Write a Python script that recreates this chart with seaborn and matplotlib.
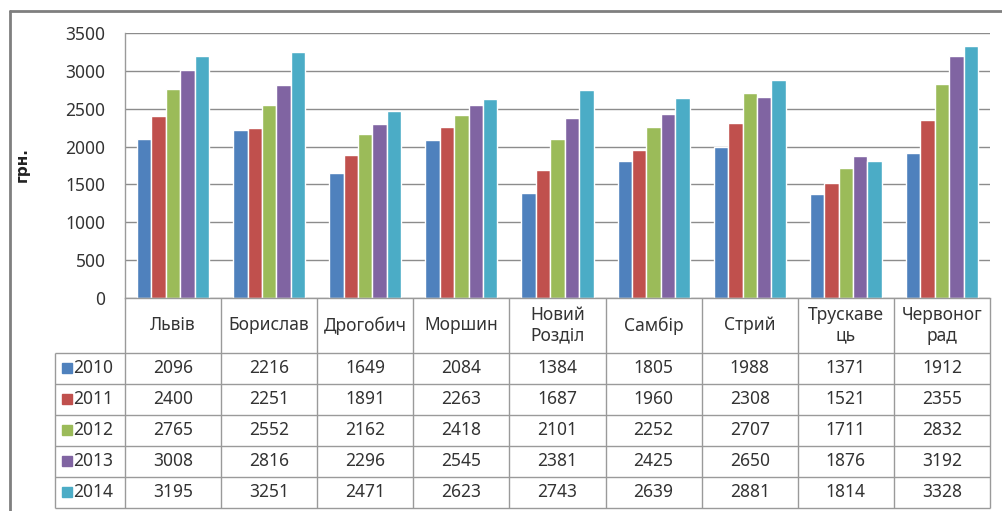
import matplotlib.pyplot as plt
import seaborn as sns
import pandas as pd
from matplotlib.lines import Line2D

# дані
cities = ['Львів', 'Борислав', 'Дрогобич', 'Моршин', 'Новий\nРозділ',
          'Самбір', 'Стрий', 'Трускаве\nць', 'Червоног\nрад']
years = ['2010', '2011', '2012', '2013', '2014']
v2010 = [2096, 2216, 1649, 2084, 1384, 1805, 1988, 1371, 1912]
v2011 = [2400, 2251, 1891, 2263, 1687, 1960, 2308, 1521, 2355]
v2012 = [2765, 2552, 2162, 2418, 2101, 2252, 2707, 1711, 2832]
v2013 = [3008, 2816, 2296, 2545, 2381, 2425, 2650, 1876, 3192]
v2014 = [3195, 3251, 2471, 2623, 2743, 2639, 2881, 1814, 3328]
colors = ['#4F81BD', '#C0504D', '#9BBB59', '#8064A2', '#4BACC6']

series = [v2010, v2011, v2012, v2013, v2014]
df = pd.DataFrame([
    {'city': c, 'year': y, 'value': v}
    for y, vals in zip(years, series)
    for c, v in zip(cities, vals)
])

sns.set_style('white')
plt.rcParams['font.family'] = ['Noto Sans', 'DejaVu Sans']
txt_color = '#333333'
line_color = '#9a9a9a'
fs = 12.5

W, H = 1002, 511
fig = plt.figure(figsize=(W / 100, H / 100), dpi=100)


def px(x0, y0, x1, y1):
    return [x0 / W, 1 - y1 / H, (x1 - x0) / W, (y1 - y0) / H]


# діаграма
ax = fig.add_axes(px(125, 33, 990, 298))
sns.barplot(data=df, x='city', y='value', hue='year', palette=colors,
            width=0.75, saturation=1, ax=ax, legend=False)
ax.set_xlim(-0.5, 8.5)
ax.set_ylim(0, 3500)
ax.set_yticks(range(0, 3501, 500))
ax.yaxis.grid(True, color='#8c8c8c', lw=1)
ax.set_axisbelow(True)
ax.set_xticks([])
ax.set_xlabel('')
ax.set_ylabel('')
ax.tick_params(axis='y', length=0, pad=14, labelsize=fs, labelcolor=txt_color)
for s in ['top', 'right']:
    ax.spines[s].set_visible(False)
for s in ['left', 'bottom']:
    ax.spines[s].set_color(line_color)
    ax.spines[s].set_linewidth(1)

fig.text(22 / W, 1 - 165 / H, 'грн.', rotation=90, weight='bold',
         family=['DejaVu Sans'], ha='center', va='center', fontsize=11,
         color='#222222')

# таблиця даних
cw = 865 / 9
x_left = -0.5 - 70 / cw
tax = fig.add_axes(px(55, 298, 990, 508))
tax.set_xlim(x_left, 8.5)
tax.set_ylim(508, 298)
tax.axis('off')

head_bottom = 353
row_h = 31
for r in range(6):
    y = head_bottom + row_h * r
    tax.hlines(y, x_left, 8.5, color=line_color, lw=1, clip_on=False)
for i in range(10):
    tax.vlines(i - 0.5, 298, 508, color=line_color, lw=1, clip_on=False)
tax.vlines(x_left, head_bottom, 508, color=line_color, lw=1, clip_on=False)

for i, c in enumerate(cities):
    tax.text(i, (298 + head_bottom) / 2, c, ha='center', va='center',
             fontsize=fs, color=txt_color, linespacing=1.15)

for r, (y, vals, col) in enumerate(zip(years, series, colors)):
    yc = head_bottom + row_h * (r + 0.5)
    tax.plot(x_left + 12 / cw, yc, marker='s', ms=7, color=col, clip_on=False)
    tax.text(x_left + 18 / cw, yc, y, ha='left', va='center',
             fontsize=fs, color=txt_color)
    for i, v in enumerate(vals):
        tax.text(i, yc, str(v), ha='center', va='center',
                 fontsize=fs, color=txt_color)

# рамка
fig.add_artist(Line2D([10 / W, 10 / W], [0, 1 - 11 / H], transform=fig.transFigure,
                      color='#7f7f7f', lw=2))
fig.add_artist(Line2D([10 / W, 1], [1 - 11 / H, 1 - 11 / H], transform=fig.transFigure,
                      color='#7f7f7f', lw=2))

fig.savefig('out.png', dpi=100)
